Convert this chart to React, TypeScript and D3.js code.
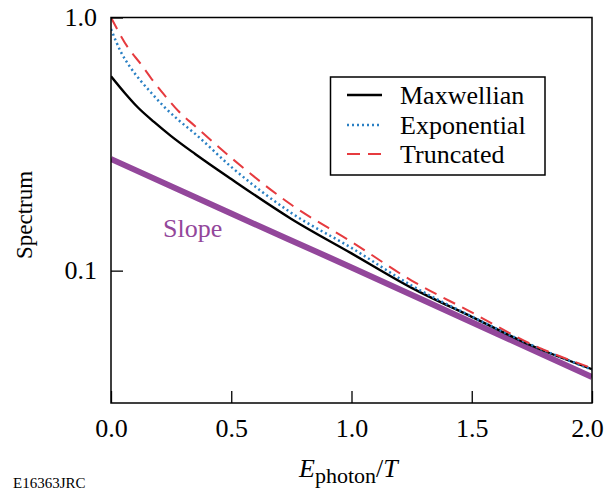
import React, { useEffect, useRef } from "react";
import * as d3 from "d3";

// values (x = E_photon / T)
const maxwellX = [0, 0.06, 0.11, 0.18, 0.25, 0.35, 0.5, 0.75, 1.0, 1.25, 1.5, 1.75, 2.0];
const maxwellY = [0.586, 0.5, 0.443, 0.386, 0.34, 0.289, 0.23, 0.16, 0.117, 0.0855, 0.0657, 0.0505, 0.0408];

const expX = [0, 0.04, 0.08, 0.125, 0.17, 0.22, 0.28, 0.35, 0.5, 0.75, 1.0, 1.25, 1.5, 1.75, 2.0];
const expY = [0.9, 0.735, 0.636, 0.56, 0.501, 0.445, 0.394, 0.347, 0.257, 0.169, 0.123, 0.0873, 0.0659, 0.0508, 0.0406];

const truncX = [0, 0.07, 0.125, 0.17, 0.22, 0.28, 0.35, 0.5, 0.75, 1.0, 1.25, 1.5, 1.75, 2.0];
const truncY = [1.0, 0.762, 0.653, 0.57, 0.497, 0.427, 0.372, 0.279, 0.182, 0.13, 0.0914, 0.0684, 0.0511, 0.0412];

const slopeX = [0, 0.5, 1.0, 1.5, 2.0];
const slopeY = [0.276, 0.168, 0.103, 0.0625, 0.038];

const xTicks = [0, 0.5, 1.0, 1.5, 2.0];
const yTicks = [0.1, 1.0];

const legendNames = ["Maxwellian", "Exponential", "Truncated"];

const W = 605;
const H = 491;
const left = 111, right = 592, top = 17.5, bottom = 403;
const serif = "'Liberation Serif', 'Times New Roman', serif";

const App = () => {
  const xRef = useRef<SVGGElement>(null);
  const yRef = useRef<SVGGElement>(null);

  const x = d3.scaleLinear().domain([0, 2]).range([left, right]);
  const y = d3.scaleLog().domain([0.03, 1]).range([bottom, top]);

  const line = (xs: number[], ys: number[]) =>
    d3.line<number>()
      .x((_, i) => x(xs[i]))
      .y((d) => y(d))
      .curve(d3.curveMonotoneX)(ys) || "";

  useEffect(() => {
    const gx = d3.select(xRef.current!);
    gx.selectAll("*").remove();
    gx.call(
      d3.axisBottom(x)
        .tickValues(xTicks)
        .tickFormat(d3.format(".1f") as any)
        .tickSizeInner(-12)
        .tickSizeOuter(0)
        .tickPadding(16)
    );
    gx.select(".domain").remove();
    gx.selectAll("line").attr("stroke", "#000").attr("stroke-width", 1.3);
    gx.selectAll("text").attr("font-family", serif).attr("font-size", 26).attr("fill", "#000");
    // last label sits against the right edge of the page
    gx.selectAll<SVGTextElement, number>("text").filter((d) => d === 2).attr("dx", -5);

    const gy = d3.select(yRef.current!);
    gy.selectAll("*").remove();
    gy.call(
      d3.axisLeft(y)
        .tickValues(yTicks)
        .tickFormat(d3.format(".1f") as any)
        .tickSizeInner(-12)
        .tickSizeOuter(0)
        .tickPadding(14)
    );
    gy.select(".domain").remove();
    gy.selectAll("line").attr("stroke", "#000").attr("stroke-width", 1.3);
    gy.selectAll("text").attr("font-family", serif).attr("font-size", 26).attr("fill", "#000");
  }, []);

  const styles = [
    { stroke: "#000", width: 2.4, dash: "" },
    { stroke: "#2a80c4", width: 2.5, dash: "2,3" },
    { stroke: "#e63b3f", width: 2, dash: "13,8" },
  ];
  const legY = [95, 125, 154];

  return (
    <svg width={W} height={H} style={{ position: "absolute", left: 0, top: 0, background: "#fff" }}>
      <defs>
        <clipPath id="plot">
          <rect x={left} y={top} width={right - left} height={bottom - top} />
        </clipPath>
      </defs>
      <g clipPath="url(#plot)" fill="none">
        <path d={line(slopeX, slopeY)} stroke="#93479b" strokeWidth={6} />
        <path d={line(maxwellX, maxwellY)} stroke={styles[0].stroke} strokeWidth={styles[0].width} />
        <path d={line(expX, expY)} stroke={styles[1].stroke} strokeWidth={styles[1].width} strokeDasharray={styles[1].dash} />
        <path d={line(truncX, truncY)} stroke={styles[2].stroke} strokeWidth={styles[2].width} strokeDasharray={styles[2].dash} />
      </g>
      <rect x={left} y={top} width={right - left} height={bottom - top} fill="none" stroke="#000" strokeWidth={1.5} />
      <g ref={xRef} transform={`translate(0,${bottom})`} />
      <g ref={yRef} transform={`translate(${left},0)`} />

      <text x={163} y={237} fontFamily={serif} fontSize={26} fill="#93479b">Slope</text>

      <rect x={330.5} y={77} width={214.5} height={98} fill="#fff" stroke="#000" strokeWidth={1.5} />
      {legendNames.map((name, i) => (
        <g key={name}>
          <line x1={347} x2={382} y1={legY[i]} y2={legY[i]} stroke={styles[i].stroke} strokeWidth={styles[i].width}
            strokeDasharray={styles[i].dash} />
          <text x={400} y={legY[i]} dy="0.35em" fontFamily={serif} fontSize={26} fill="#000">{name}</text>
        </g>
      ))}

      <text transform="translate(32,215) rotate(-90)" textAnchor="middle" fontFamily={serif} fontSize={23} fill="#000">
        Spectrum
      </text>
      <text x={299} y={477} fontFamily={serif} fontSize={26} fill="#000">
        <tspan fontStyle="italic">E</tspan>
        <tspan fontSize={22} dy={6}>photon</tspan>
        <tspan dy={-6}>/</tspan>
        <tspan fontStyle="italic">T</tspan>
      </text>
      <text x={13} y={488} fontFamily={serif} fontSize={15} fill="#000">E16363JRC</text>
    </svg>
  );
};

export default App;
